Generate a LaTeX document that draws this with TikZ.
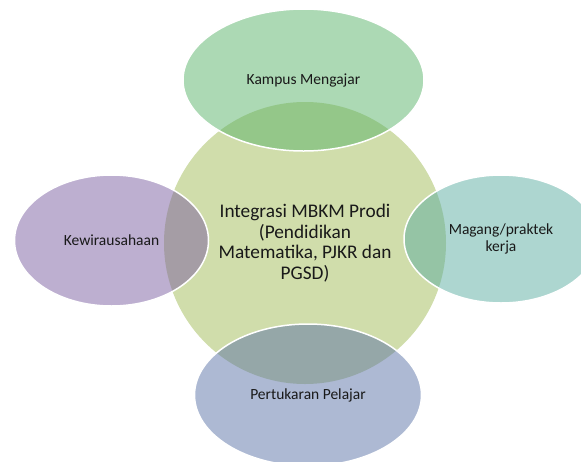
\documentclass[tikz,border=0pt]{standalone}
\usepackage{fontspec}
\setmainfont{Carlito}
\usepackage{tikz}
\usetikzlibrary{shapes.geometric}

\definecolor{hubfill}{RGB}{208,221,171}
\definecolor{kampusfill}{RGB}{89,179,105}
\definecolor{wirafill}{RGB}{123,95,161}
\definecolor{magangfill}{RGB}{91,173,161}
\definecolor{tukarfill}{RGB}{91,115,167}
\definecolor{labeltext}{RGB}{25,25,25}

\begin{document}
\begin{tikzpicture}[x=1pt,y=-1pt]
		\useasboundingbox (0,0) rectangle (581,461);
		%\draw[help lines,step=20] (0,0) grid (581,461);
		\tikzset{hub/.style = {shape=circle,fill=hubfill,minimum size=282pt,inner sep=0pt,
				text=labeltext,font=\fontsize{19.3}{20.5}\selectfont,align=center}}
		\tikzset{spoke/.style = {shape=ellipse,draw=white,line width=1.5pt,fill opacity=0.5,
				text opacity=1,inner sep=0pt,text=labeltext,font=\fontsize{15.5}{16.5}\selectfont,align=center}}
		\node[hub] (mbkm) at (305,243) {Integrasi MBKM Prodi\\(Pendidikan\\Matematika, PJKR dan\\PGSD)};
		{
			\tikzset{spoke/.append style = {minimum width=241pt}}
			\node[spoke,fill=kampusfill,minimum height=142pt] (kampus) at (303.5,80) {Kampus Mengajar};
			\node[spoke,fill=tukarfill,minimum width=227pt,minimum height=142pt] (tukar) at (308,395) {Pertukaran Pelajar};
		}
		{
			\tikzset{spoke/.append style = {minimum width=194pt,minimum height=131pt}}
			\node[spoke,fill=wirafill] (wira) at (111.5,240.5) {Kewirausahaan};
			\node[spoke,fill=magangfill,minimum height=128pt] (magang) at (501,239) {Magang/praktek\\kerja};
		}
	\end{tikzpicture}
\end{document}
